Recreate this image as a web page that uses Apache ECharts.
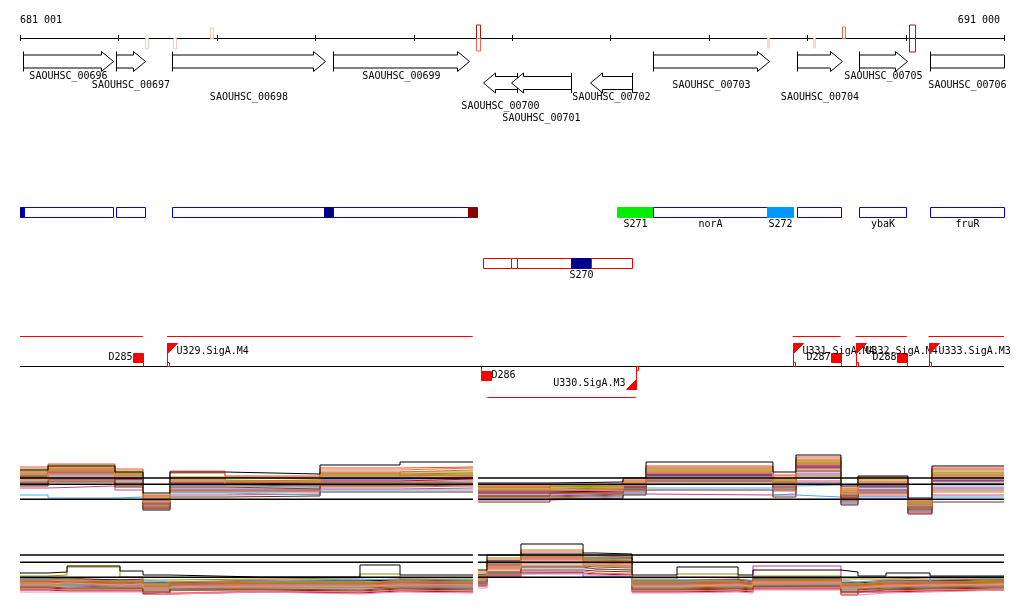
<!DOCTYPE html>
<html>
<head>
<meta charset="utf-8">
<script src="https://cdn.jsdelivr.net/npm/echarts/dist/echarts.min.js"></script>
<style>
html,body{margin:0;padding:0;background:#ffffff;}
#chart{width:1024px;height:611px;}
</style>
</head>
<body>
<div id="chart"></div>
<script>
// ================= DATA =================
const X_MIN = 681000, X_MAX = 691000;
const rulerTicks = [681000,682000,683000,684000,685000,686000,687000,688000,689000,690000,691000];
const rulerLabelPos = [681000, 691000];
const rulerLabels = ['681 001', '691 000'];

// small signal markers on the ruler
const markStart = [682266, 682555, 682931, 685630, 685630, 688587, 689055, 689350, 690031];
const markEnd   = [682296, 682583, 682958, 685671, 685671, 688608, 689075, 689384, 690093];
const markKind  = ['weakDown','weakDown','weakUp','strongUp','medDown','faintDown','faintDown','medUp','strongBoth'];

// genes
const geneNames  = ['SAOUHSC_00696','SAOUHSC_00697','SAOUHSC_00698','SAOUHSC_00699','SAOUHSC_00700','SAOUHSC_00701','SAOUHSC_00702','SAOUHSC_00703','SAOUHSC_00704','SAOUHSC_00705','SAOUHSC_00706'];
const geneStart  = [681034, 681979, 682548, 684184, 685708, 685990, 686793, 687433, 688892, 689526, 690250];
const geneEnd    = [681948, 682270, 684100, 685566, 686055, 686600, 687218, 688607, 689350, 690011, 691400];
const geneStrand = ['+','+','+','+','-','-','-','+','+','+','+'];

// segments (annotation boxes)
const segStart = [681003, 681038, 681979, 682548, 684092, 684184, 685553, 687071, 687433, 688592, 688892, 689523, 690250, 685708, 685990, 686055, 686600, 686799];
const segEnd   = [681038, 681942, 682267, 684092, 684184, 685553, 685641, 687433, 688592, 688856, 689342, 690008, 691000, 685990, 686055, 686600, 686799, 687218];
const segTrack = ['A','A','A','A','A','A','A','A','A','A','A','A','A','B','B','B','B','B'];
const segType  = ['navy','plain','plain','plain','navy','plain','darkred','green','plain','sky','plain','plain','plain','plainR','plainR','plainR','navy','plainR'];
const segLabel = ['','','','','','','','S271','norA','S272','','ybaK','fruR','','','','S270',''];

// transcripts, terminators, promoters
const trStart  = [681000, 682494, 685749, 688852, 689491, 690233];
const trEnd    = [682247, 685601, 687257, 689340, 690013, 691000];
const trStrand = ['+','+','-','+','+','+'];
const termPos    = [682247, 685688, 689340, 690015];
const termStrand = ['+','-','+','+'];
const termNames  = ['D285','D286','D287','D288'];
const promPos    = [682494, 687257, 688852, 689491, 690233];
const promStrand = ['+','-','+','+','+'];
const promNames  = ['U329.SigA.M4','U330.SigA.M3','U331.SigA.M4','U332.SigA.M4','U333.SigA.M3'];

// expression panel 1 (step profiles; left block + right block)
const p1LeftBounds  = [681000, 681285, 681965, 682250, 682524, 683083, 684049, 684862, 685604];
const p1RightBounds = [685654, 686386, 687128, 687362, 688652, 688886, 689343, 689516, 690024, 690268, 691000];
const p1RefLevels = [42, 35.7, 20.7];
const p1Values = [
  [50,54,48,27,48,46,55,58, 37,38,42,58,48,65,34,44,22,54],
  [53,56,51,25,47,44,52,53, 35,36,40,54,45,63,32,43,20,52],
  [51,55,49,23,43,41,48,50, 33,34,38,52,42,60,30,41,18,50],
  [47,50,46,21,40,39,45,46, 32,33,37,49,40,58,28,38,17,47],
  [45,52,44,18,38,37,44,45, 30,31,35,48,38,55,26,36,15,44],
  [44,48,42,20,37,36,42,43, 29,30,34,46,37,54,25,35,14,42],
  [43,46,41,17,35,34,41,42, 28,29,33,45,35,52,24,33,13,40],
  [41,45,40,19,34,33,40,40, 27,28,32,43,34,35,23,32,15,38],
  [40,44,39,15,32,32,38,39, 26,28,31,42,33,50,22,30,12,36],
  [39,43,38,16,31,31,37,38, 25,27,31,41,32,48,21,29,11,34],
  [36,40,36,14,30,30,35,36, 24,26,30,39,31,46,20,28,10,32],
  [38,42,37,13,29,29,34,35, 23,25,29,38,30,44,19,27, 9,30],
  [35,39,34,12,28,28,33,34, 22,24,28,36,29,42,18,26, 8,28],
  [32,34,30,11,25,26,31,32, 20,22,26,25,26,39,16,24, 7,25],
  [25,22,23,10,27,25,30,30, 21,23,27,32,25,23,17,23,10,23],
  [34,38,33,10,23,24,28,28, 18,21,25,30,23,37,15,21, 6,18],
  [49,53,47,22,49,43,50,52, 34,35,39,53,44,61,31,42,19,51],
  [42,47,41,16,36,35,39,41, 27,29,33,44,36,53,23,34,13,39],
  [46,49,45,19,41,38,46,47, 31,32,36,50,39,56,27,37,16,45],
  [48,51,43,24,39,40,47,44, 33,30,36,47,41,57,29,39,18,48],
  [44,50,47,17,42,38,43,48, 30,34,34,51,38,59,27,35,16,46],
  [42,47,44,14,36,39,46,44, 29,31,37,47,37,57,24,37,12,43],
  [37,41,35,12,33,31,37,37, 24,27,31,40,33,49,22,30,11,36],
  [40,46,43,18,40,35,43,42, 31,29,35,50,35,51,26,38,14,41]
];

// expression panel 2
const p2LeftBounds  = [681000, 681285, 681478, 682016, 682250, 682524, 683439, 684455, 684862, 685604];
const p2RightBounds = [685654, 685746, 686091, 686722, 686854, 687220, 687677, 688297, 688449, 689343, 689516, 689801, 690248, 691000];
const p2RefLevels = [55, 47.7, 32.7];
const p2Values = [
  [37,38,44,39,35,33,33,45,35, 40,55,66,57,56,35,43,35,40,38,34,37,34],
  [34,35,43,33,30,31,32,36,31, 38,52,60,55,54,31,36,30,34,31,31,32,32],
  [32,32,30,31,28,30,30,31,30, 36,50,58,54,53,30,31,29,32,28,30,30,31],
  [31,31,30,30,27,29,29,30,29, 35,49,56,52,52,29,30,28,31,27,29,29,30],
  [30,30,29,29,26,28,28,29,28, 34,47,55,51,50,28,29,27,33,26,28,28,30],
  [31,30,28,30,28,29,31,30,30, 33,36,38,34,33,30,29,29,30,28,29,28,32],
  [29,28,27,28,24,27,27,28,27, 33,46,54,50,49,27,28,26,29,25,27,27,29],
  [28,27,27,27,23,26,26,27,26, 32,45,52,48,47,26,27,26,44,24,26,27,28],
  [27,27,26,26,22,25,25,26,25, 31,43,50,47,46,25,26,25,28,23,25,26,27],
  [26,26,25,25,21,24,24,25,24, 30,42,48,45,44,24,25,24,27,22,24,25,26],
  [25,25,24,24,20,23,23,24,23, 29,40,46,44,43,23,24,23,26,21,23,24,25],
  [24,24,23,23,19,22,22,23,22, 28,38,44,43,42,22,23,22,25,20,22,23,24],
  [23,23,22,22,19,21,21,22,22, 27,37,42,41,40,21,22,21,24,19,21,22,24],
  [26,25,24,25,22,24,25,24,23, 26,33,38,33,33,25,24,23,25,22,23,24,33],
  [22,21,21,21,17,20,19,21,20, 26,36,40,39,38,20,21,20,23,18,20,21,22],
  [21,20,20,20,17,19,18,20,19, 25,35,39,37,36,19,20,19,22,16,19,20,21],
  [20,19,19,19,16,18,17,19,18, 24,34,37,36,35,18,19,18,21,15,18,19,20],
  [18,18,18,18,16,18,16,18,17, 22,33,36,35,34,17,18,17,20,15,17,18,20],
  [29,29,28,28,25,27,27,28,27, 33,45,53,49,48,27,28,27,30,25,27,28,28],
  [27,28,26,27,23,26,26,26,26, 32,44,51,47,47,26,27,25,29,24,26,26,27],
  [30,31,29,29,25,28,27,29,28, 34,48,55,50,50,28,29,27,30,26,28,28,29],
  [25,26,24,24,21,23,23,24,24, 30,41,47,45,44,23,24,23,26,21,23,24,25],
  [23,22,22,22,18,21,20,22,21, 28,38,43,41,40,21,22,21,24,18,21,22,23],
  [26,27,25,26,22,24,24,25,25, 31,42,49,46,45,24,25,24,28,22,24,25,26]
];

// ================= STYLE / LAYOUT =================
const FONT = '10px "DejaVu Sans Mono", monospace';
const p1Colors = ['#000000','#e8502a','#9c8c00','#66cc00','#b5651d','#990066','#000066','#66aaee','#ee7733','#9999cc','#993399','#8b5a2b','#d2691e','#cc4488','#44aaff','#663322','#ff6655','#aa1133','#c8642d','#d2691e','#b8860b','#cd853f','#8b4513','#e9967a'];
const p2Colors = ['#000000','#9c8c00','#e8502a','#000066','#66cc00','#66aaee','#a0522d','#cc3399','#ee7733','#993399','#cc9966','#8b5a2b','#9999cc','#3399ff','#663322','#ff6655','#aa1133','#ff88aa','#c8642d','#d2691e','#b8860b','#cd853f','#8b4513','#e9967a'];
const L = {
  rulerY: 38.5, tickTop: 35, tickBot: 41, rulerLabelY: 20,
  geneFwdY: 61.5, geneRevY: 83, bodyHalf: 6.5, headHalf: 10, headLen: 12,
  geneLabelY: [76, 85.5, 97.5, 76, 106, 118, 97.5, 85.5, 97.5, 76, 85.5],
  segTop: {A: 207.5, B: 258.5}, segH: 10, segLabelY: {A: 224.5, B: 275.5},
  promBase: 366.5, trUp: 336.5, trDown: 397.5
};
const markStyle = {
  weakDown:   {y1: 38.5, y2: 49, stroke: '#f7cbbd', fill: null},
  weakUp:     {y1: 28, y2: 38.5, stroke: '#f7c6b0', fill: null},
  strongUp:   {y1: 25, y2: 38.5, stroke: '#b01515', fill: null},
  medDown:    {y1: 38.5, y2: 51, stroke: '#ef6a4c', fill: null},
  medUp:      {y1: 27, y2: 38.5, stroke: '#ef6a4c', fill: null},
  faintDown:  {y1: 38.5, y2: 48, stroke: '#f9d6ca', fill: '#f9d6ca'},
  strongBoth: {y1: 25, y2: 52, stroke: '#b01515', fill: null}
};
const segStyle = {
  plain:   {fill: '#ffffff', stroke: '#0000ee'},
  plainR:  {fill: '#ffffff', stroke: '#ee0000'},
  navy:    {fill: '#00008b', stroke: '#00008b'},
  darkred: {fill: '#880000', stroke: '#880000'},
  green:   {fill: '#00ee00', stroke: '#00ee00'},
  sky:     {fill: '#0099ff', stroke: '#0099ff'}
};

// ================= RENDER =================
const chart = echarts.init(document.getElementById('chart'), null, {renderer: 'canvas'});
const P = v => Math.round(v) + 0.5;
function txt(t, x, y, align) {
  return {type: 'text', style: {text: t, x: x, y: y, align: align, textAlign: align,
    verticalAlign: 'middle', textVerticalAlign: 'middle', font: FONT, fill: '#000', textFill: '#000'}};
}
function hline(x1, x2, y, color, w) {
  return {type: 'line', shape: {x1: x1, y1: y, x2: x2, y2: y}, style: {stroke: color, lineWidth: w || 1}};
}
function vline(x, y1, y2, color, w) {
  return {type: 'line', shape: {x1: x, y1: y1, x2: x, y2: y2}, style: {stroke: color, lineWidth: w || 1}};
}

function renderRuler(params, api) {
  const c = g => api.coord([g, 0])[0];
  const ch = [hline(c(X_MIN), c(X_MAX), L.rulerY, '#000', 1)];
  rulerTicks.forEach(t => ch.push(vline(P(c(t)), L.tickTop, L.tickBot, '#000', 1)));
  ch.push(txt(rulerLabels[0], c(rulerLabelPos[0]), L.rulerLabelY, 'left'));
  ch.push(txt(rulerLabels[1], c(rulerLabelPos[1]) - 4, L.rulerLabelY, 'right'));
  return {type: 'group', children: ch};
}
function renderMark(params, api) {
  const i = params.dataIndex;
  const st = markStyle[markKind[i]];
  const x1 = P(api.coord([markStart[i], 0])[0]);
  let x2 = P(api.coord([markEnd[i], 0])[0]);
  if (x2 <= x1) x2 = x1 + 1;
  return {type: 'rect', shape: {x: x1, y: st.y1, width: x2 - x1, height: st.y2 - st.y1},
    style: {fill: st.fill || 'none', stroke: st.stroke, lineWidth: 1}};
}
function renderGene(params, api) {
  const i = params.dataIndex;
  const s = Math.max(geneStart[i], X_MIN), e = Math.min(geneEnd[i], X_MAX);
  const x1 = P(api.coord([s, 0])[0]), x2 = P(api.coord([e, 0])[0]);
  const fwd = geneStrand[i] === '+';
  const cy = fwd ? L.geneFwdY : L.geneRevY;
  const bh = L.bodyHalf, hh = L.headHalf, hl = L.headLen;
  let pts, tickX;
  if (fwd) {
    tickX = x1;
    if (geneEnd[i] > X_MAX) pts = [[x1, cy - bh], [x2, cy - bh], [x2, cy + bh], [x1, cy + bh]];
    else { const hb = Math.max(x1, x2 - hl); pts = [[x1, cy - bh], [hb, cy - bh], [hb, cy - hh], [x2, cy], [hb, cy + hh], [hb, cy + bh], [x1, cy + bh]]; }
  } else {
    tickX = x2;
    if (geneStart[i] < X_MIN) pts = [[x1, cy - bh], [x2, cy - bh], [x2, cy + bh], [x1, cy + bh]];
    else { const hb = Math.min(x2, x1 + hl); pts = [[x2, cy - bh], [hb, cy - bh], [hb, cy - hh], [x1, cy], [hb, cy + hh], [hb, cy + bh], [x2, cy + bh]]; }
  }
  return {type: 'group', children: [
    {type: 'polygon', shape: {points: pts}, style: {fill: '#fff', stroke: '#000', lineWidth: 1}},
    vline(tickX, cy - hh, cy + hh, '#000', 1),
    txt(geneNames[i], (x1 + x2) / 2, L.geneLabelY[i], 'center')
  ]};
}
function renderSeg(params, api) {
  const i = params.dataIndex;
  const st = segStyle[segType[i]];
  const x1 = P(api.coord([segStart[i], 0])[0]), x2 = P(api.coord([Math.min(segEnd[i], X_MAX), 0])[0]);
  const top = L.segTop[segTrack[i]];
  const ch = [{type: 'rect', shape: {x: x1, y: top, width: x2 - x1, height: L.segH}, style: {fill: st.fill, stroke: st.stroke, lineWidth: 1}}];
  if (segLabel[i]) ch.push(txt(segLabel[i], (x1 + x2) / 2, L.segLabelY[segTrack[i]], 'center'));
  return {type: 'group', children: ch};
}
function renderBase(params, api) {
  return hline(api.coord([X_MIN, 0])[0], api.coord([X_MAX, 0])[0], L.promBase, '#000', 1);
}
function renderTr(params, api) {
  const i = params.dataIndex;
  const y = trStrand[i] === '+' ? L.trUp : L.trDown;
  return hline(api.coord([trStart[i], 0])[0], api.coord([trEnd[i], 0])[0], y, '#ff0000', 1);
}
function renderTerm(params, api) {
  const i = params.dataIndex;
  const x = P(api.coord([termPos[i], 0])[0]);
  const b = L.promBase;
  const red = '#ff0000';
  if (termStrand[i] === '+') {
    return {type: 'group', children: [
      {type: 'rect', shape: {x: x - 10, y: b - 13, width: 10, height: 9}, style: {fill: red, stroke: red, lineWidth: 1}},
      vline(x, b - 4, b, red, 1),
      txt(termNames[i], x - 11, b - 9.5, 'right')
    ]};
  }
  return {type: 'group', children: [
    {type: 'rect', shape: {x: x, y: b + 5, width: 10, height: 9}, style: {fill: red, stroke: red, lineWidth: 1}},
    vline(x, b, b + 5, red, 1),
    txt(termNames[i], x + 10, b + 9, 'left')
  ]};
}
function renderProm(params, api) {
  const i = params.dataIndex;
  const x = P(api.coord([promPos[i], 0])[0]);
  const b = L.promBase;
  const red = '#ff0000';
  if (promStrand[i] === '+') {
    const t = b - 23;
    return {type: 'group', children: [
      vline(x, b, t, red, 1),
      {type: 'polygon', shape: {points: [[x, t], [x + 10, t], [x, t + 10]]}, style: {fill: red, stroke: red, lineWidth: 1}},
      {type: 'rect', shape: {x: x, y: b - 4, width: 2, height: 4}, style: {fill: 'none', stroke: red, lineWidth: 1}},
      txt(promNames[i], x + 9, b - 15.5, 'left')
    ]};
  }
  const t = b + 23;
  return {type: 'group', children: [
    vline(x, b, t, red, 1),
    {type: 'polygon', shape: {points: [[x, t], [x - 10, t], [x, t - 10]]}, style: {fill: red, stroke: red, lineWidth: 1}},
    {type: 'rect', shape: {x: x, y: b, width: 2, height: 4}, style: {fill: 'none', stroke: red, lineWidth: 1}},
    txt(promNames[i], x - 11, b + 17, 'right')
  ]};
}

// explicit step vertices for one block: level held across each interval
function stepBlock(bounds, vals) {
  const pts = [];
  for (let i = 0; i < bounds.length - 1; i++) {
    pts.push([bounds[i], vals[i]]);
    pts.push([bounds[i + 1], vals[i]]);
  }
  return pts;
}

const custom = (name, n, fn, z) => ({
  type: 'custom', name: name, xAxisIndex: 0, yAxisIndex: 0, silent: true, z: z || 2,
  data: Array.from({length: n}, (_, k) => [k]), encode: {x: 0}, renderItem: fn
});

const series = [
  custom('ruler', 1, renderRuler),
  custom('marks', markStart.length, renderMark, 3),
  custom('genes', geneNames.length, renderGene),
  custom('segments', segStart.length, renderSeg),
  custom('base', 1, renderBase),
  custom('transcripts', trStart.length, renderTr),
  custom('terminators', termPos.length, renderTerm, 3),
  custom('promoters', promPos.length, renderProm, 3)
];

function addPanel(axis, leftB, rightB, values, colors, refs) {
  const nL = leftB.length - 1;
  values.forEach((v, k) => {
    [[leftB, v.slice(0, nL)], [rightB, v.slice(nL)]].forEach(([b, vv]) => series.push({
      type: 'line', xAxisIndex: axis, yAxisIndex: axis, showSymbol: false, symbol: 'none', silent: true,
      data: stepBlock(b, vv), lineStyle: {color: colors[k], width: 1}, z: k === 0 ? 3 : 2
    }));
  });
  refs.forEach(lvl => {
    [leftB, rightB].forEach(b => series.push({
      type: 'line', xAxisIndex: axis, yAxisIndex: axis, showSymbol: false, symbol: 'none', silent: true,
      data: [[b[0], lvl], [b[b.length - 1], lvl]], lineStyle: {color: '#000', width: 1.5}, z: 4
    }));
  });
}
addPanel(1, p1LeftBounds, p1RightBounds, p1Values, p1Colors, p1RefLevels);
addPanel(2, p2LeftBounds, p2RightBounds, p2Values, p2Colors, p2RefLevels);

chart.setOption({
  animation: false,
  backgroundColor: '#ffffff',
  grid: [
    {left: 20, right: 20, top: 0, bottom: 0},
    {left: 20, right: 20, top: 440, height: 80},
    {left: 20, right: 20, top: 530, height: 80}
  ],
  xAxis: [0, 1, 2].map(g => ({type: 'value', gridIndex: g, min: X_MIN, max: X_MAX, show: false})),
  yAxis: [
    {type: 'value', gridIndex: 0, min: 0, max: 611, inverse: true, show: false},
    {type: 'value', gridIndex: 1, min: 0, max: 80, show: false},
    {type: 'value', gridIndex: 2, min: 0, max: 80, show: false}
  ],
  series: series
});
</script>
</body>
</html>
